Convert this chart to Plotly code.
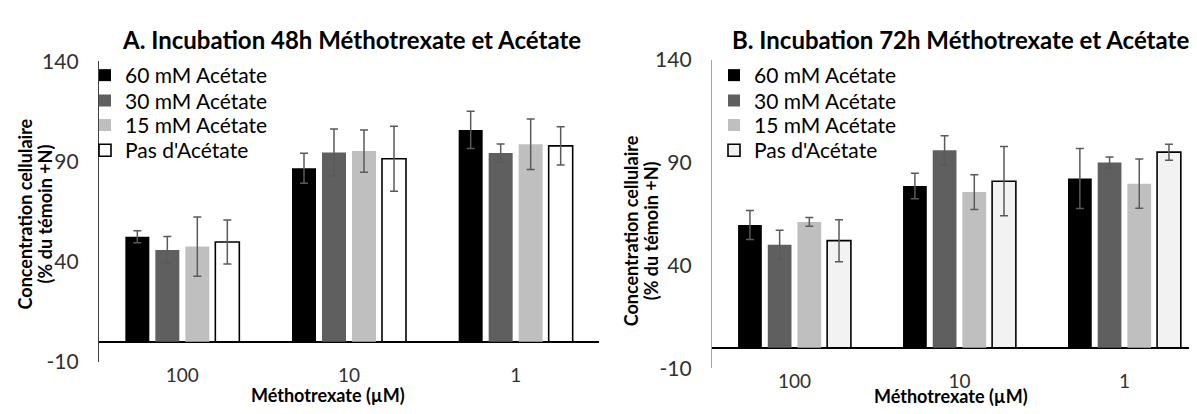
import plotly.graph_objects as go

# categories (méthotrexate concentration, µM)
doses = ["100", "10", "1"]
series_names = ["60 mM Acétate", "30 mM Acétate", "15 mM Acétate", "Pas d'Acétate"]

# panel A : incubation 48h
a_60 = [52.4, 86.6, 105.8]
a_30 = [45.8, 94.5, 94.2]
a_15 = [47.5, 95.2, 98.6]
a_0 = [49.8, 91.4, 97.8]
a_60_err = [3.0, 7.5, 9.3]
a_30_err = [6.8, 11.8, 4.5]
a_15_err = [14.8, 10.6, 12.6]
a_0_err = [11.0, 16.2, 9.5]

# panel B : incubation 72h
b_60 = [59.6, 78.6, 82.2]
b_30 = [50.0, 95.9, 90.0]
b_15 = [61.1, 75.6, 79.7]
b_0 = [52.0, 80.9, 95.0]
b_60_err = [7.0, 6.2, 14.6]
b_30_err = [7.1, 7.1, 2.7]
b_15_err = [2.1, 8.4, 12.0]
b_0_err = [10.2, 16.8, 3.9]

y_ticks = [-10, 40, 90, 140]
y_ticktext = ["-10", "40", "90", "140"]

# the page body keeps its 8px margin, so the figure is drawn 8px in
OFF = 8
W, H = 1197 - OFF, 414 - OFF
FONT = "Lato"
colors_a = ["#000000", "#5f5f5f", "#bfbfbf", "#ffffff"]
colors_b = ["#000000", "#5f5f5f", "#bfbfbf", "#f2f2f2"]
legend_rows = [65, 92, 118, 145]   # screen y of each legend entry


def px(x):
    # screen pixel -> paper fraction
    return (x - OFF) / W


def py(y):
    return 1 - (y - OFF) / H


fig = go.Figure()

panels = [
    ("x", "y", 85, [a_60, a_30, a_15, a_0], [a_60_err, a_30_err, a_15_err, a_0_err], colors_a),
    ("x2", "y2", 714, [b_60, b_30, b_15, b_0], [b_60_err, b_30_err, b_15_err, b_0_err], colors_b),
]

legend_font = dict(family=FONT, size=21, color="#000000")
legends = {}
n = 0
for xa, ya, leg_x, vals, errs, cols in panels:
    for i, (name, v, e, c) in enumerate(zip(series_names, vals, errs, cols)):
        n += 1
        leg = "legend" if n == 1 else f"legend{n}"
        # one legend box per entry so the row spacing matches the original
        legends[leg] = dict(x=px(leg_x), y=py(legend_rows[i]), xanchor="left",
                            yanchor="middle", font=legend_font,
                            bgcolor="rgba(0,0,0,0)", itemwidth=30)
        outlined = c in ("#ffffff", "#f2f2f2")
        fig.add_trace(go.Bar(
            x=doses, y=v, name=name, xaxis=xa, yaxis=ya, legend=leg,
            marker=dict(color=c,
                        line=dict(color="#000000" if outlined else c,
                                  width=1.6 if outlined else 0)),
            error_y=dict(type="data", array=e, color="#5a5a5a",
                         thickness=1.5, width=4),
        ))

yaxis_common = dict(
    range=[-10, 140], tickvals=y_ticks, ticktext=y_ticktext, showgrid=False,
    showline=True, linewidth=1.3,
    zeroline=True, zerolinecolor="#000000", zerolinewidth=1.6,
    ticks="outside", ticklen=15, tickcolor="rgba(0,0,0,0)",
    tickfont=dict(family=FONT, size=21, color="#303030"),
)
xaxis_common = dict(
    showgrid=False, showline=False, zeroline=False, ticks="",
    tickfont=dict(family=FONT, size=19, color="#303030"),
)

fig.update_layout(
    width=W, height=H,
    margin=dict(l=0, r=0, t=0, b=0),
    paper_bgcolor="white", plot_bgcolor="white",
    barmode="group", bargap=0.28, bargroupgap=0.2,
    showlegend=True,
    xaxis=dict(domain=[px(99), px(599)], anchor="y", range=[-0.5, 2.5], **xaxis_common),
    yaxis=dict(domain=[py(370), py(50)], anchor="x", linecolor="#404040", **yaxis_common),
    xaxis2=dict(domain=[px(712), 1.0], anchor="y2", range=[-0.5, 2.44], **xaxis_common),
    yaxis2=dict(domain=[py(377), py(48)], anchor="x2", linecolor="#a6a6a6", **yaxis_common),
    **legends,
)

title_font = dict(family=FONT, size=24, color="#000000")
label_font = dict(family=FONT, size=18, color="#000000")
xlabel_font = dict(family=FONT, size=18, color="#000000")
annots = [
    (351, 27, "<b>A. Incubation 48h Méthotrexate et Acétate</b>", title_font, 0),
    (960, 27, "<b>B. Incubation 72h Méthotrexate et Acétate</b>", title_font, 0),
    (25, 213, "<b>Concentration cellulaire</b>", label_font, -90),
    (45, 213, "<b>(% du témoin +N)</b>", label_font, -90),
    (631, 231, "<b>Concentration cellulaire</b>", label_font, -90),
    (651, 231, "<b>(% du témoin +N)</b>", label_font, -90),
    (328, 406, "<b>Méthotrexate (µM)</b>", xlabel_font, 0),
    (951, 407, "<b>Méthotrexate (µM)</b>", xlabel_font, 0),
]
for x, y, t, f, ang in annots:
    fig.add_annotation(x=px(x), y=py(y), xref="paper", yref="paper", text=t,
                       showarrow=False, font=f, textangle=ang,
                       xanchor="center", yanchor="middle")

fig.write_html("out.html")
